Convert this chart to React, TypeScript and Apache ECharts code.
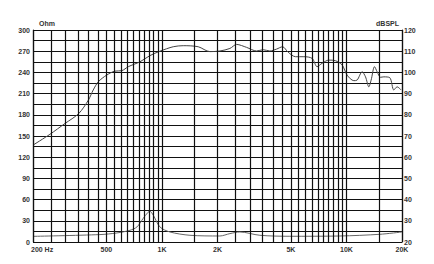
import React, { useEffect, useRef } from 'react';
import * as echarts from 'echarts';

// SPL response (right axis, dBSPL)
const splFreq = [200, 247, 298, 354, 399, 424, 452, 501, 556, 605, 657, 760, 860, 975, 1151, 1304, 1572, 1819, 2061, 2335, 2538, 2876, 3257, 3538, 3844, 4179, 4506, 4831, 5298, 5877, 6517, 6934, 7379, 8026, 8724, 9474, 10086, 10964, 11426, 12158, 12684, 13222, 13606, 14196, 14664, 15298, 15940, 17180, 18060, 18820, 19780];
const splDb = [65.7, 70.8, 75.9, 80.6, 86.9, 91.7, 95.6, 98.7, 100.6, 100.8, 102.7, 105, 107.9, 110, 112.1, 112.6, 112.1, 109.8, 110.1, 111.3, 113.2, 111.8, 110.1, 110.7, 110.1, 111, 112.1, 109.5, 107.4, 107.4, 106.6, 102.7, 104.3, 105.8, 105.5, 103.5, 98.7, 96.1, 96.4, 100.3, 97.9, 93.2, 96.4, 102.7, 100.3, 97.7, 97.9, 97.5, 91.7, 93.2, 91.7];

// Impedance (left axis, Ohm)
const impFreq = [200, 461, 570, 671, 732, 789, 840, 860, 897, 975, 1104, 1418, 2061, 2335, 2644, 3394, 4934, 9206, 15160, 20000];
const impOhm = [8, 10.5, 12.8, 16.6, 21.3, 33, 42, 43.5, 38, 21.3, 14.2, 9.5, 8.5, 11.9, 14.2, 9.5, 8.1, 8.5, 10.9, 14.2];

// vertical grid frequencies
const gridFreqs = [
  200, 250, 300, 350, 400, 450, 500, 550, 600, 650, 700, 750, 800, 850, 900, 950,
  1000, 1500, 2000, 2500, 3000, 3500, 4000, 4500, 5000, 5500, 6000, 6500, 7000, 7500, 8000, 8500, 9000, 9500,
  10000, 15000, 20000,
];
const xTickFreqs = [200, 500, 1000, 2000, 5000, 10000, 20000];
const xTickLabels = ['200 Hz', '500', '1K', '2K', '5K', '10K', '20K'];

const FONT = 'Liberation Sans';
const txt = { fontFamily: FONT, fontSize: 7, fontWeight: 'bold' as const, color: '#333' };

export default function App() {
  const ref = useRef<HTMLDivElement>(null);
  useEffect(() => {
    if (!ref.current) return;
    const chart = echarts.init(ref.current, undefined, { renderer: 'svg' });
    const gridLine = { color: '#111', width: 1.2, type: 'solid' as const };
    chart.setOption({
      animation: false,
      backgroundColor: '#fff',
      grid: { left: 33, right: 32, top: 30, bottom: 22 },
      xAxis: {
        type: 'log',
        logBase: 10,
        min: 200,
        max: 20000,
        axisLabel: { show: false },
        axisTick: { show: false },
        axisLine: { show: false },
        splitLine: { show: false },
        minorSplitLine: { show: false },
      },
      yAxis: [
        {
          type: 'value',
          min: 0,
          max: 300,
          interval: 15,
          position: 'left',
          name: 'Ohm',
          nameLocation: 'end',
          nameGap: 3,
          nameTextStyle: { ...txt, align: 'left', padding: [0, 0, 0, 6] },
          axisLine: { show: true, lineStyle: gridLine },
          axisTick: { show: false },
          axisLabel: { ...txt, margin: 3, formatter: (v: number) => (v % 30 === 0 ? String(v) : '') },
          splitLine: { show: true, lineStyle: gridLine },
        },
        {
          type: 'value',
          min: 20,
          max: 120,
          interval: 5,
          position: 'right',
          name: 'dBSPL',
          nameLocation: 'end',
          nameGap: 3,
          nameTextStyle: { ...txt, align: 'right', padding: [0, 3, 0, 0] },
          axisLine: { show: true, lineStyle: gridLine },
          axisTick: { show: false },
          axisLabel: { ...txt, margin: 2, formatter: (v: number) => (v % 10 === 0 ? String(v) : '') },
          splitLine: { show: false },
        },
      ],
      series: [
        {
          type: 'line',
          name: 'Impedance',
          yAxisIndex: 0,
          data: impFreq.map((f, i) => [f, impOhm[i]]),
          symbol: 'none',
          smooth: 0.3,
          lineStyle: { color: '#666', width: 1 },
          silent: true,
          markLine: {
            silent: true,
            symbol: ['none', 'none'],
            lineStyle: gridLine,
            label: { show: false },
            emphasis: { disabled: true },
            data: gridFreqs.map((f) => {
              const k = xTickFreqs.indexOf(f);
              if (k < 0) return { xAxis: f };
              return {
                xAxis: f,
                label: {
                  show: true,
                  position: 'start',
                  distance: 4,
                  formatter: xTickLabels[k],
                  ...txt,
                  ...(k === 0 ? { align: 'left', padding: [0, 0, 0, -2] } : {}),
                },
              };
            }),
          },
        },
        {
          type: 'line',
          name: 'SPL',
          yAxisIndex: 1,
          data: splFreq.map((f, i) => [f, splDb[i]]),
          symbol: 'none',
          smooth: 0.3,
          lineStyle: { color: '#444', width: 1 },
          silent: true,
        },
      ],
    });
    return () => chart.dispose();
  }, []);
  return <div ref={ref} style={{ position: 'fixed', left: 0, top: 0, width: 434, height: 264 }} />;
}
